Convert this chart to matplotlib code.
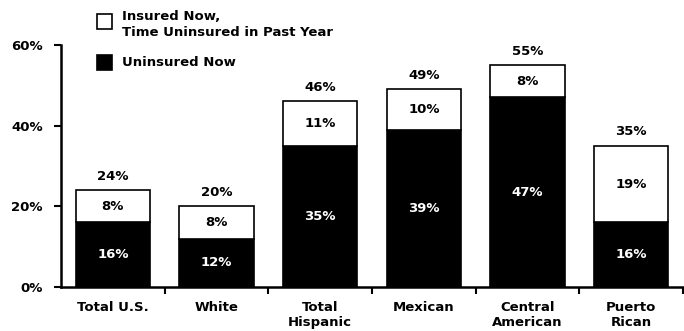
import matplotlib.pyplot as plt
from matplotlib.patches import Rectangle

# Data
categories = ["Total U.S.", "White", "Total\nHispanic", "Mexican", "Central\nAmerican", "Puerto\nRican"]
uninsured_now = [16, 12, 35, 39, 47, 16]
uninsured_past_year = [8, 8, 11, 10, 8, 19]
totals = [24, 20, 46, 49, 55, 35]
yticks = [0, 20, 40, 60]

plt.rcParams["font.family"] = ["DejaVu Sans"]
plt.rcParams["font.weight"] = "bold"

fig = plt.figure(figsize=(6.84, 3.31), dpi=100)
ax = fig.add_axes([61 / 684, 1 - 287 / 331, 622 / 684, 242 / 331])

x = list(range(len(categories)))
width = 0.72

ax.bar(x, uninsured_now, width, color="black", edgecolor="black", linewidth=1.2)
ax.bar(x, uninsured_past_year, width, bottom=uninsured_now, color="white",
       edgecolor="black", linewidth=1.2)

fs = 9.5
for i in x:
    ax.text(i, uninsured_now[i] / 2, f"{uninsured_now[i]}%", color="white",
            ha="center", va="center", fontsize=fs, fontweight="bold")
    ax.text(i, uninsured_now[i] + uninsured_past_year[i] / 2, f"{uninsured_past_year[i]}%",
            color="black", ha="center", va="center", fontsize=fs, fontweight="bold")
    ax.annotate(f"{totals[i]}%", (i, totals[i]), xytext=(0, 10), textcoords="offset points",
                ha="center", va="center", fontsize=fs, fontweight="bold")

ax.set_xlim(-0.5, len(categories) - 0.5)
ax.set_ylim(0, 60)
ax.set_yticks(yticks)
ax.set_yticklabels([f"{v}%" for v in yticks], fontsize=fs, fontweight="bold")
ax.tick_params(axis="y", length=5, width=1.5, pad=8)

# category ticks sit between bars, labels at bar centers
ax.set_xticks([i + 0.5 for i in x])
ax.set_xticklabels([])
ax.set_xticks(x, minor=True)
ax.set_xticklabels(categories, minor=True, fontsize=fs, fontweight="bold", linespacing=1.25)
ax.tick_params(axis="x", which="major", length=5, width=1.5)
ax.tick_params(axis="x", which="minor", length=0, pad=10)

for side in ["top", "right"]:
    ax.spines[side].set_visible(False)
for side in ["left", "bottom"]:
    ax.spines[side].set_linewidth(1.8)

# legend drawn by hand in figure pixels
fig.patches.append(Rectangle((97 / 684, 1 - 29 / 331), 15 / 684, 15 / 331, transform=fig.transFigure,
                             facecolor="white", edgecolor="black", linewidth=1.2))
fig.patches.append(Rectangle((97 / 684, 1 - 70 / 331), 15 / 684, 15 / 331, transform=fig.transFigure,
                             facecolor="black", edgecolor="black", linewidth=1.2))
fig.text(122 / 684, 1 - 25 / 331, "Insured Now,\nTime Uninsured in Past Year", ha="left", va="center",
         fontsize=fs, fontweight="bold", linespacing=1.3)
fig.text(122 / 684, 1 - 63 / 331, "Uninsured Now", ha="left", va="center",
         fontsize=fs, fontweight="bold")

fig.savefig("out.png", dpi=100)
